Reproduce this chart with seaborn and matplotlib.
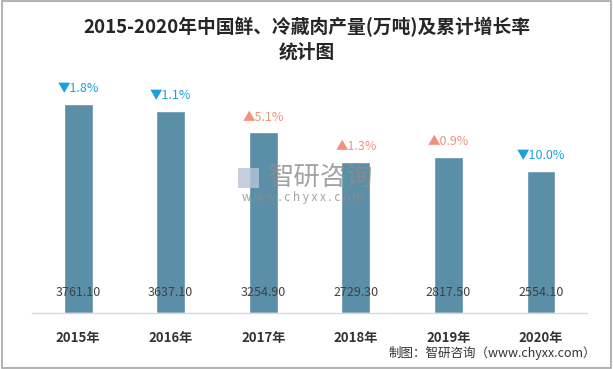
import matplotlib
matplotlib.use("Agg")
import matplotlib.pyplot as plt
import seaborn as sns
import pandas as pd
from matplotlib.patches import Rectangle

sns.set_theme(style="white")
plt.rcParams["font.family"] = ["Noto Sans CJK SC", "DejaVu Sans"]

# data
years = ["2015年", "2016年", "2017年", "2018年", "2019年", "2020年"]
output = [3761.10, 3637.10, 3254.90, 2729.30, 2817.50, 2554.10]
growth = ["1.8%", "1.1%", "5.1%", "1.3%", "0.9%", "10.0%"]
direction = ["down", "down", "up", "up", "up", "down"]

df = pd.DataFrame({"year": years, "output": output})

fig = plt.figure(figsize=(6.13, 3.69), dpi=100)
ax = fig.add_axes([0.052, 0.152, 0.906, 0.631])

sns.barplot(data=df, x="year", y="output", color="#5B8FA8", saturation=1,
            width=0.31, ax=ax)
ax.set_ylim(0, 4200)
ax.set_xlim(-0.5, 5.5)

for sp in ["top", "right", "left"]:
    ax.spines[sp].set_visible(False)
ax.spines["bottom"].set_color("#D9D9D9")
ax.spines["bottom"].set_linewidth(1)
ax.set_yticks([])
ax.set_xlabel("")
ax.set_ylabel("")
ax.tick_params(axis="x", length=0, pad=13)
for lbl in ax.get_xticklabels():
    lbl.set_fontsize(9.5)
    lbl.set_fontweight("bold")
    lbl.set_color("#333333")

up_color = "#F0937A"
down_color = "#1BA1D8"
for i, (v, g, d) in enumerate(zip(output, growth, direction)):
    # value label near the bottom of each bar
    ax.annotate(f"{v:.2f}", (i, 0), xytext=(0, 15), textcoords="offset points",
                ha="center", va="center", fontsize=9, color="#404040")
    mark = "▼" if d == "down" else "▲"
    col = down_color if d == "down" else up_color
    ax.annotate(mark + g, (i, v), xytext=(0, 11), textcoords="offset points",
                ha="center", va="center", fontsize=9, color=col)

# watermark
fig.text(0.523, 0.52, "智研咨询", fontsize=19, color="#8C8C8C", alpha=0.8,
         ha="center", va="center")
fig.text(0.494, 0.465, "w w w . c h y x x . c o m", fontsize=8.5, color="#8C8C8C",
         alpha=0.8, ha="center", va="center")
fig.patches.append(Rectangle((0.388, 0.49), 0.035, 0.055, transform=fig.transFigure,
                             facecolor="#B8C4D6", alpha=0.8, edgecolor="none"))

# title
fig.text(0.5, 0.927, "2015-2020年中国鲜、冷藏肉产量(万吨)及累计增长率",
         fontsize=13.5, fontweight="semibold", color="#262626", ha="center", va="center")
fig.text(0.5, 0.858, "统计图", fontsize=13.5, fontweight="semibold", color="#262626",
         ha="center", va="center")

# source
fig.text(0.972, 0.043, "制图：智研咨询（www.chyxx.com）", fontsize=9,
         color="#333333", ha="right", va="center")

# border
fig.patches.append(Rectangle((0.004, 0.004), 0.992, 0.992, transform=fig.transFigure,
                             fill=False, edgecolor="#A6A6A6", linewidth=1.2))

fig.savefig("out.png", dpi=100)
